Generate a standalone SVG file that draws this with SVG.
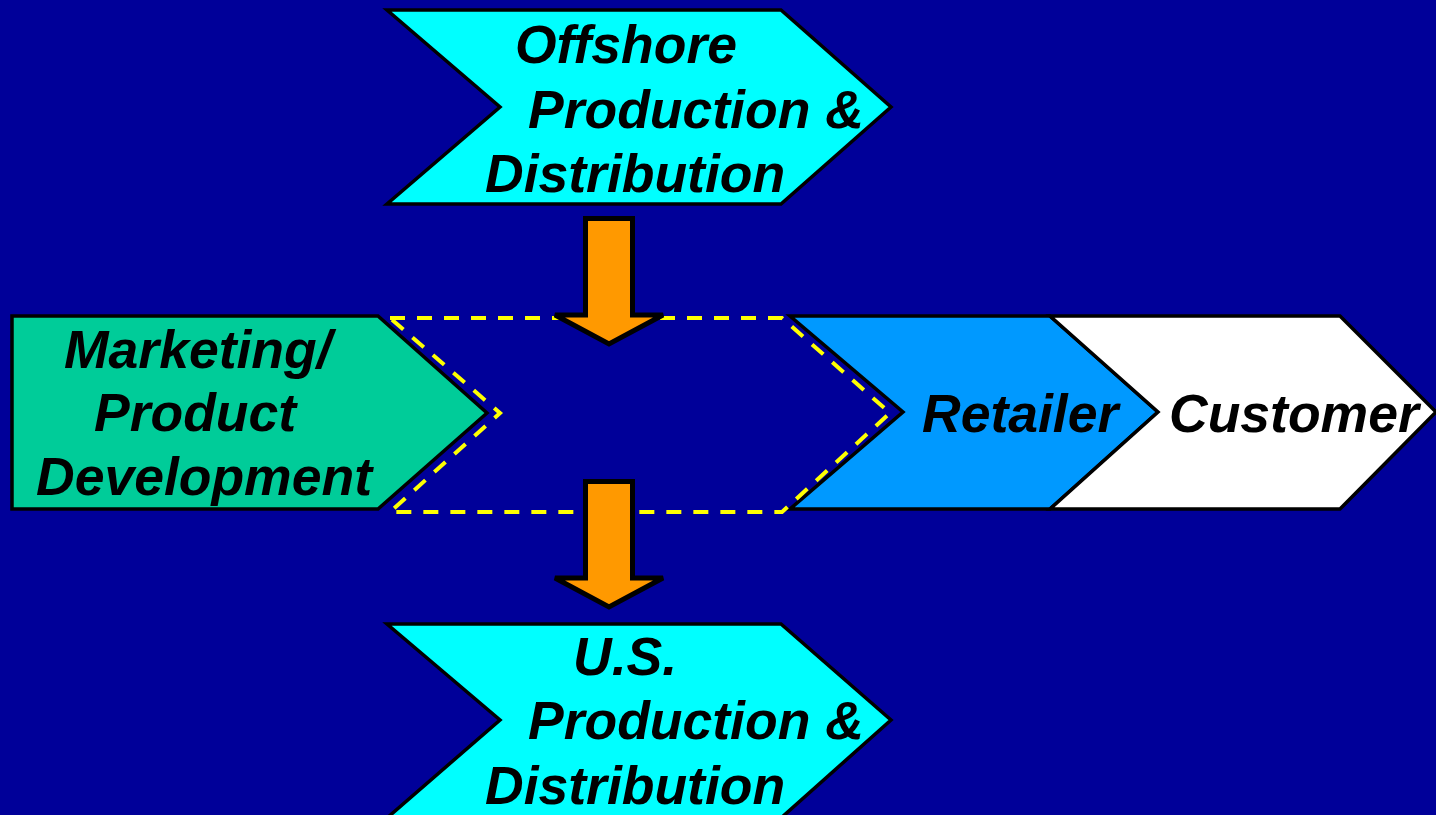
<svg xmlns="http://www.w3.org/2000/svg" width="1436" height="815" viewBox="0 0 1436 815">
  <style>
    .shape { stroke: #000000; stroke-width: 3.5; stroke-linejoin: miter; }
    .label { font-family: "Liberation Sans", Arial, sans-serif; font-size: 53.5px; font-weight: bold; font-style: italic; fill: #000000; }
    .arrow { fill: #FF9900; stroke: #000000; stroke-width: 5; stroke-linejoin: miter; }
    .scope { fill: none; stroke: #FFFF00; stroke-width: 4; stroke-dasharray: 15 12; }
  </style>
  <rect x="0" y="0" width="1436" height="815" fill="#000099"/>

  <g id="offshore">
    <polygon class="shape" fill="#00FFFF" points="387,10 781,10 891,107 781,204 387,204 500,107"/>
    <text class="label" x="515" y="63">Offshore</text>
    <text class="label" x="528" y="128">Production &amp;</text>
    <text class="label" x="485" y="192">Distribution</text>
  </g>

  <g id="marketing">
    <polygon class="shape" fill="#00CC99" points="12,316 378,316 487,413 378,509 12,509"/>
    <text class="label" x="64" y="368">Marketing/</text>
    <text class="label" x="94" y="431">Product</text>
    <text class="label" x="36" y="495">Development</text>
  </g>

  <g id="retailer">
    <polygon class="shape" fill="#0099FF" points="790,316 1050,316 1158,412 1050,509 790,509 903,412"/>
    <text class="label" x="922" y="432">Retailer</text>
  </g>

  <g id="customer">
    <polygon class="shape" fill="#FFFFFF" points="1050,316 1340,316 1436,412 1340,509 1050,509 1158,412"/>
    <text class="label" x="1169" y="432">Customer</text>
  </g>

  <g id="us">
    <polygon class="shape" fill="#00FFFF" points="387,624 781,624 891,720 781,818 387,818 500,720"/>
    <text class="label" x="573" y="675">U.S.</text>
    <text class="label" x="528" y="739">Production &amp;</text>
    <text class="label" x="485" y="804">Distribution</text>
  </g>

  <g id="connectors">
    <!-- dashed outline of the sourcing stage -->
    <polygon class="scope" points="390,318 782,318 890,413 782,512 390,512 500,413"/>
    <!-- block arrows feeding down into and out of the stage -->
    <path class="arrow" d="M585.5,218.5 L632.5,218.5 L632.5,315 L663,315 L609,344 L555,315 L585.5,315 Z"/>
    <path class="arrow" d="M585.5,481.5 L632.5,481.5 L632.5,578 L663,578 L609,607 L555,578 L585.5,578 Z"/>
  </g>
</svg>
